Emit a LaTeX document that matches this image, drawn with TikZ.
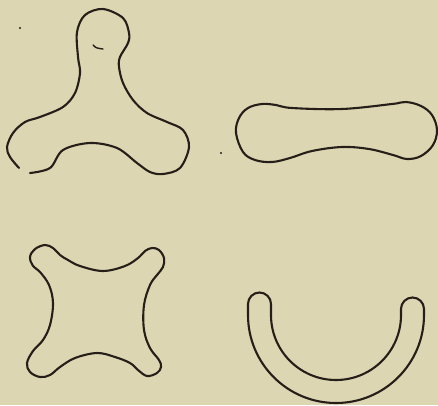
\documentclass[tikz,border=0pt]{standalone}
\definecolor{paper}{RGB}{221,214,178}
\definecolor{ink}{RGB}{38,30,24}
\tikzset{
  outline/.style={draw=ink, line width=2.1pt, line join=round, line cap=round},
  speck/.style={fill=ink, draw=none}
}
\begin{document}
\begin{tikzpicture}[x=1pt, y=-1pt]
  % paper
  \fill[paper] (0,0) rectangle (438,405);
  \useasboundingbox (0,0) rectangle (438,405);

  % three-lobed outline, open at the lower left
  \draw[outline] plot[smooth, tension=0.55] coordinates {
    (30,173) (50,168) (63,150) (90,143) (117,148) (137,163) (150,172)
    (163,174) (180,168) (189,147) (183,130) (167,122) (147,113)
    (133,100) (123,83) (119,67) (120,57) (128,43) (129,33) (123,18)
    (103,9) (85,15) (77,32) (78,57) (80,73) (75,93) (63,107) (40,117)
    (25,122) (13,133) (7,147) (10,157) (19,168)};
  \draw[ink, line width=1.4pt, line cap=round]
    (93,45) .. controls (96,48) .. (103,49);
  \fill[speck] (20,28) circle (1.1pt);
  \fill[speck] (221,153) circle (1.2pt);

  % elongated bone-like outline
  \draw[outline] plot[smooth cycle, tension=0.6] coordinates {
    (236,133) (239,118) (248,108) (262,104) (276,105) (292,108)
    (342,109) (392,104) (406,102) (421,106) (432,115) (437,130)
    (433,145) (421,156) (407,159) (393,155) (369,149)
    (342,147) (312,151) (290,158) (272,162) (255,160) (243,152)};

  % four-knobbed square
  \draw[outline] plot[smooth cycle, tension=0.6] coordinates {
    (40,272) (33,266) (30,257) (35,249) (45,245) (53,248) (60,255) (68,260)
    (80,266) (103,271) (125,266) (138,258)
    (145,251) (152,248) (159,250) (164,258) (163,267) (157,275)
    (150,285) (144,305) (144,330) (150,348) (159,360)
    (161,367) (157,373) (147,376) (138,370) (130,363)
    (115,357) (97,353) (75,358) (60,367)
    (50,375) (40,377) (30,372) (27,363) (33,351)
    (43,340) (50,325) (53,303) (49,285)};

  % half ring with rounded ends
  \draw[outline]
    (248,304) -- (248,315)
    arc[start angle=180, end angle=0, x radius=88, y radius=88]
    -- (424,309)
    arc[start angle=0, end angle=-180, radius=11.5]
    -- (401,315)
    arc[start angle=0, end angle=180, radius=65]
    -- (271,304)
    arc[start angle=0, end angle=-180, radius=11.5]
    -- cycle;
\end{tikzpicture}
\end{document}
